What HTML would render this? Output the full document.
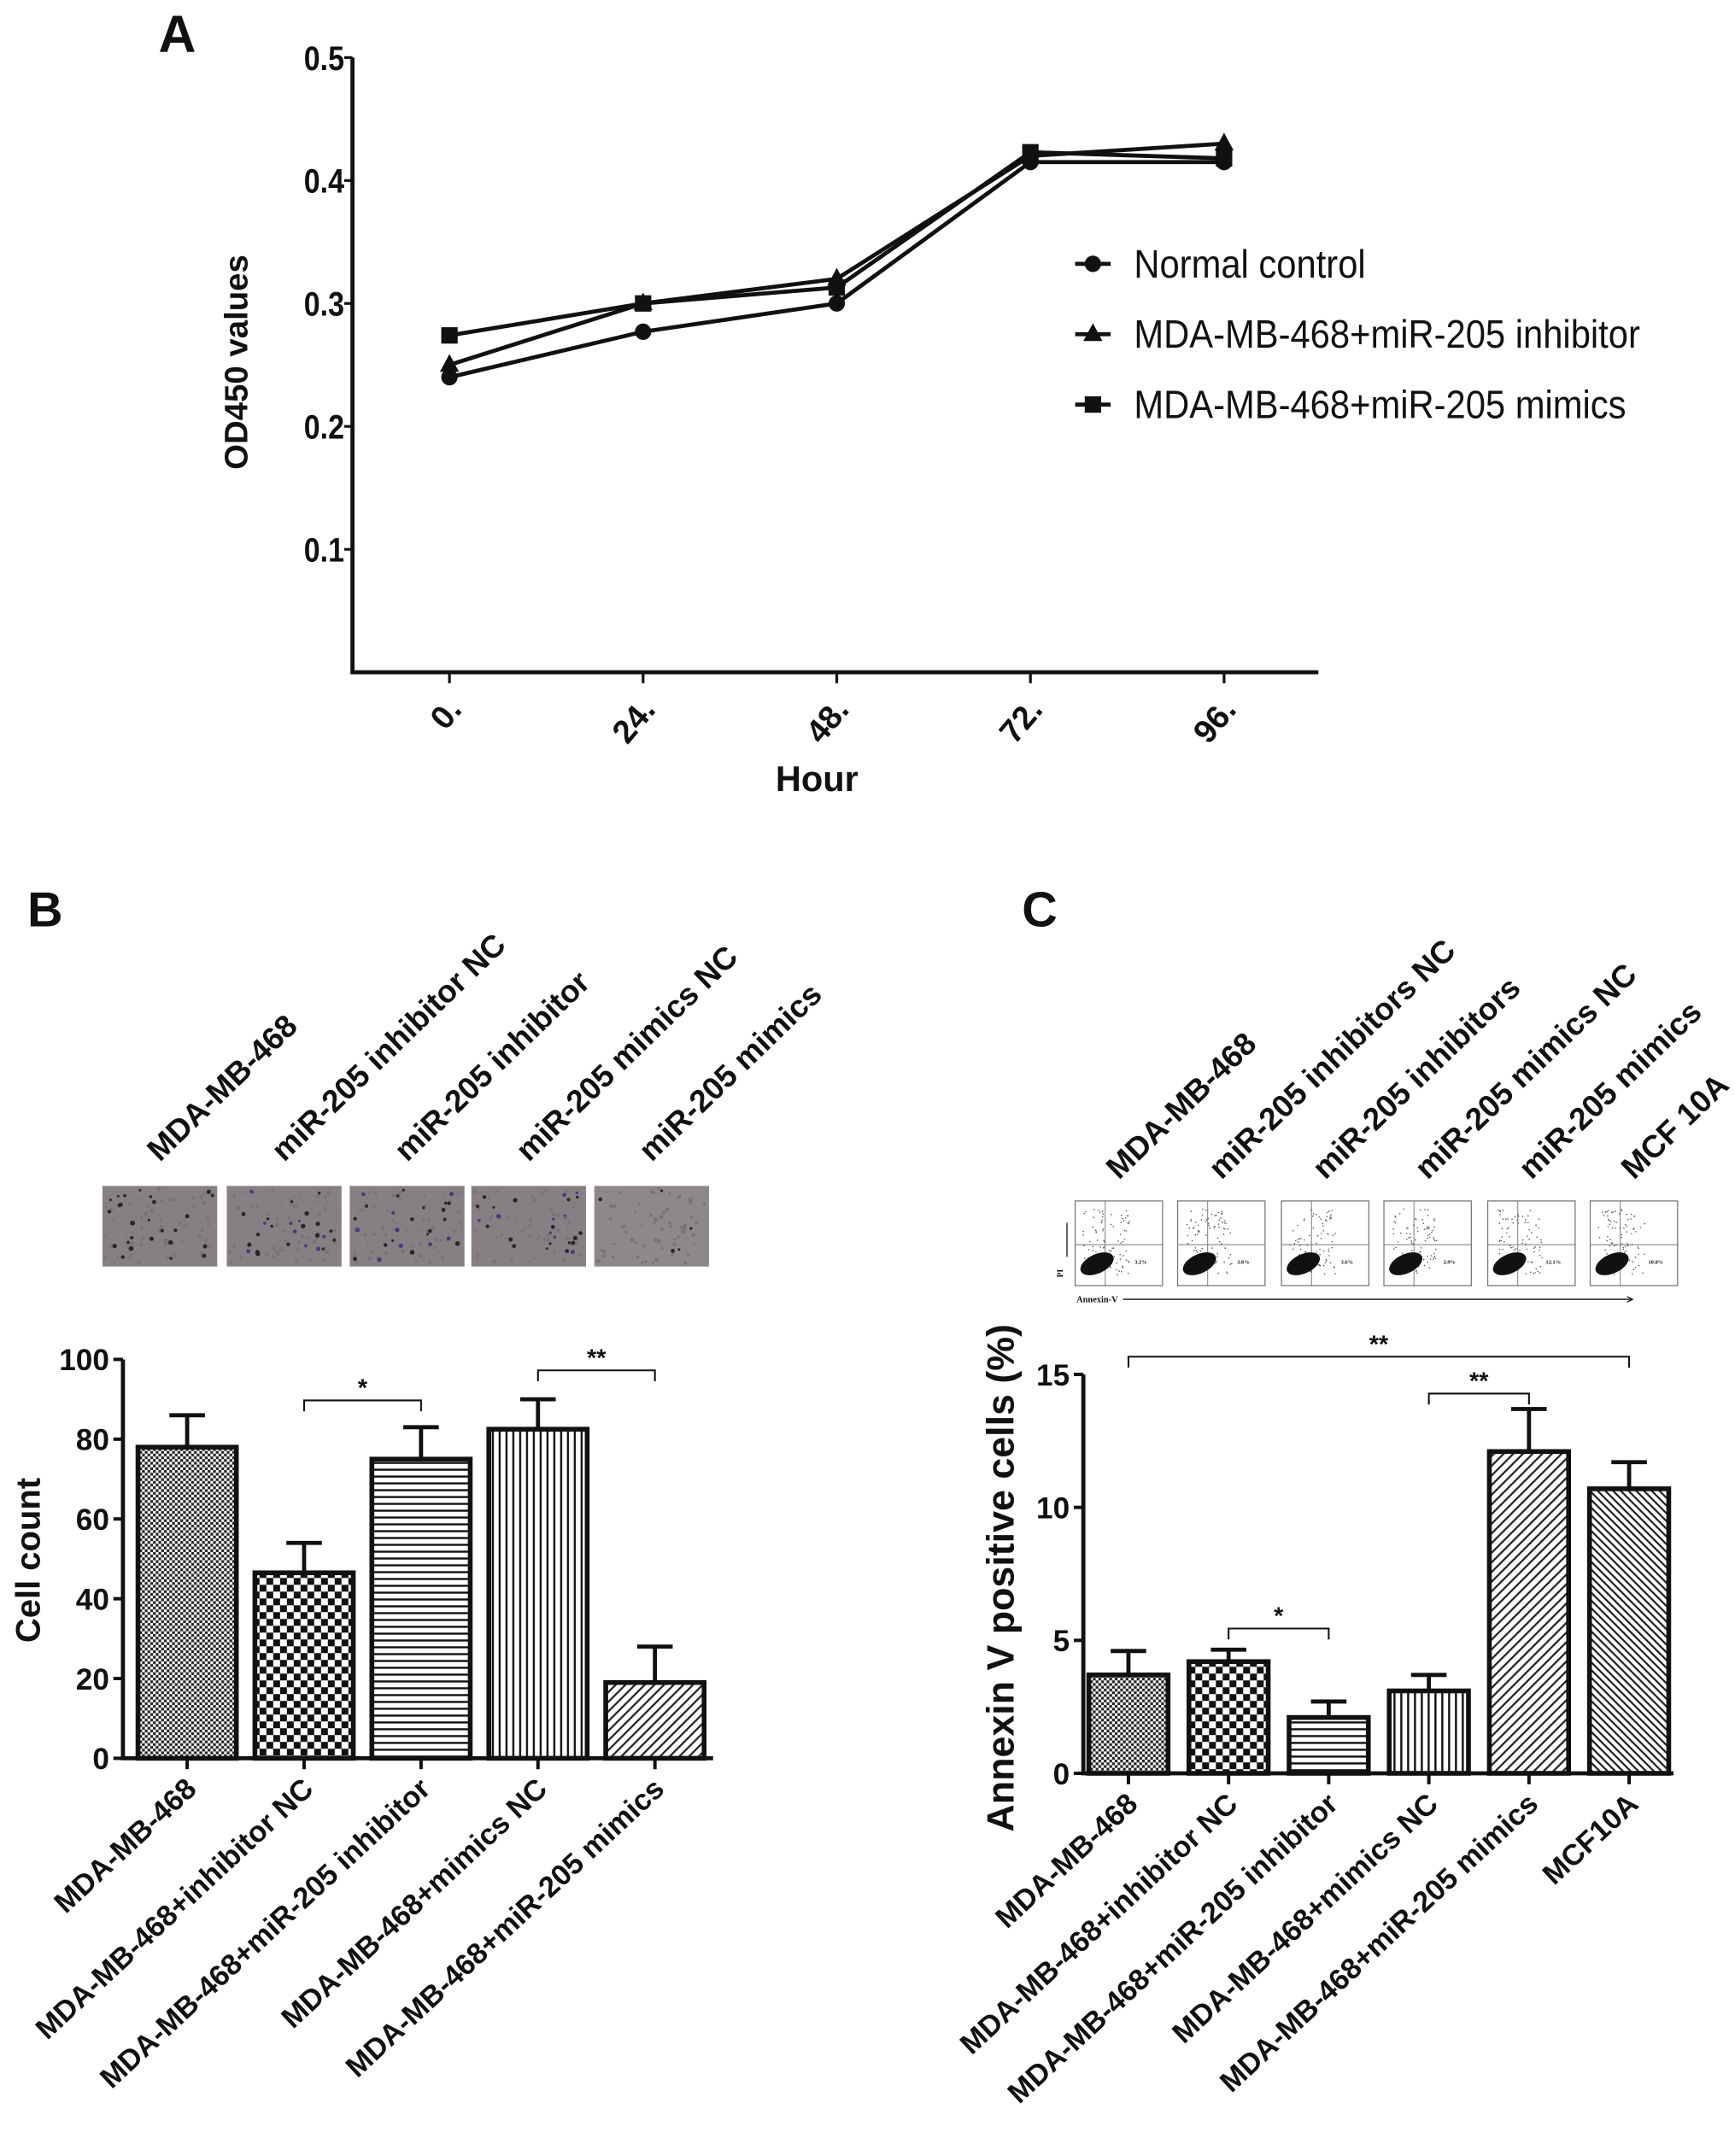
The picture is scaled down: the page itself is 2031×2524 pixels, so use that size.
<!DOCTYPE html>
<html><head><meta charset="utf-8"><style>
html,body{margin:0;padding:0;background:#fff;}
svg{display:block;}
text{font-family:"Liberation Sans",Arial,sans-serif;font-weight:bold;fill:#111;}
</style></head><body>
<svg id="fig" width="2031" height="2524" viewBox="0 0 1270 1578" xmlns="http://www.w3.org/2000/svg">
<defs>
<pattern id="pB1" width="4" height="4" patternUnits="userSpaceOnUse"><rect width="4" height="4" fill="#fff"/><rect width="2" height="2" fill="#222"/><rect x="2" y="2" width="2" height="2" fill="#222"/></pattern>
<pattern id="pB2" width="10" height="10" patternUnits="userSpaceOnUse"><rect width="10" height="10" fill="#fff"/><rect width="5" height="5" fill="#111"/><rect x="5" y="5" width="5" height="5" fill="#111"/></pattern>
<pattern id="pB3" width="6" height="5" patternUnits="userSpaceOnUse"><rect width="6" height="5" fill="#fff"/><rect width="6" height="1.5" fill="#111"/></pattern>
<pattern id="pB4" width="5" height="6" patternUnits="userSpaceOnUse"><rect width="5" height="6" fill="#fff"/><rect width="1.5" height="6" fill="#111"/></pattern>
<pattern id="pB5" width="5" height="5" patternUnits="userSpaceOnUse" patternTransform="rotate(-45)"><rect width="5" height="5" fill="#fff"/><rect width="5" height="1.4" fill="#222"/></pattern>
<pattern id="pB6" width="4" height="4" patternUnits="userSpaceOnUse" patternTransform="rotate(45)"><rect width="4" height="4" fill="#fff"/><rect width="4" height="1.4" fill="#222"/></pattern>
</defs>
<g id="A"></g>
<g id="B"></g>
<g id="C"></g>
</svg>
<script>
// ---------- Panel A data ----------
const hoursA = [0, 24, 48, 72, 96];
const hourLabelsA = ["0.", "24.", "48.", "72.", "96."];
const yTicksA = [0.1, 0.2, 0.3, 0.4, 0.5];
const normalA = [0.240, 0.277, 0.300, 0.415, 0.415];
const inhibitorA = [0.250, 0.300, 0.320, 0.420, 0.430];
const mimicsA = [0.274, 0.300, 0.313, 0.423, 0.418];
const seriesNamesA = ["Normal control", "MDA-MB-468+miR-205 inhibitor", "MDA-MB-468+miR-205 mimics"];
// ---------- Panel B data ----------
const catsB = ["MDA-MB-468", "MDA-MB-468+inhibitor NC", "MDA-MB-468+miR-205 inhibitor", "MDA-MB-468+mimics NC", "MDA-MB-468+miR-205 mimics"];
const valsB = [78, 46.5, 75, 82.5, 19];
const errB = [8, 7.5, 8, 7.5, 9];
const yTicksB = [0, 20, 40, 60, 80, 100];
const topLabelsB = ["MDA-MB-468", "miR-205 inhibitor NC", "miR-205 inhibitor", "miR-205 mimics NC", "miR-205 mimics"];
// ---------- Panel C data ----------
const catsC = ["MDA-MB-468", "MDA-MB-468+inhibitor NC", "MDA-MB-468+miR-205 inhibitor", "MDA-MB-468+mimics NC", "MDA-MB-468+miR-205 mimics", "MCF10A"];
const valsC = [3.7, 4.2, 2.1, 3.1, 12.1, 10.7];
const errC = [0.9, 0.45, 0.6, 0.6, 1.6, 1.0];
const yTicksC = [0, 5, 10, 15];
const topLabelsC = ["MDA-MB-468", "miR-205 inhibitors NC", "miR-205 inhibitors", "miR-205 mimics NC", "miR-205 mimics", "MCF 10A"];
const flowPctC = ["3.2%", "3.8%", "3.6%", "2.9%", "12.1%", "10.8%"];

const NS = "http://www.w3.org/2000/svg";
function mk(parent, tag, attrs, txt) {
  const e = document.createElementNS(NS, tag);
  for (const k in attrs) e.setAttribute(k, attrs[k]);
  if (txt !== undefined) e.textContent = txt;
  parent.appendChild(e);
  return e;
}
// deterministic pseudo-random for decorative textures only
let seed = 7;
function rnd() { seed = (seed * 16807) % 2147483647; return (seed - 1) / 2147483646; }

// ================= Panel A =================
(function(){
  const g = document.getElementById('A');
  const x0 = 258, x1 = 965, yBase = 492, yTop = 42;
  const xs = h => 329 + (h / 96) * (896 - 329);
  const ys = v => yBase - (v / 0.5) * (yBase - yTop);
  let t = mk(g, 'text', {x: 116, y: 38, 'font-size': 38}, 'A');
   
  let ax = mk(g, 'path', {d: `M${x0},${yTop} V${yBase} H${x1}`, stroke: '#111', 'stroke-width': 3, fill: 'none'});
   
  yTicksA.forEach(v => {
    const y = ys(v);
    mk(g, 'line', {x1: x0 - 6, x2: x0, y1: y, y2: y, stroke: '#111', 'stroke-width': 2});
    let l = mk(g, 'text', {x: x0 - 6, y: y + 9, 'font-size': 25, 'text-anchor': 'end', transform: `translate(${x0-6},0) scale(0.85,1) translate(${-(x0-6)},0)`}, v.toFixed(1));
     
  });
  hoursA.forEach((h, i) => {
    const x = xs(h);
    mk(g, 'line', {x1: x, x2: x, y1: yBase, y2: yBase + 8, stroke: '#111', 'stroke-width': 2});
    let l = mk(g, 'text', {x: x + 10, y: yBase + 28, 'font-size': 24, 'text-anchor': 'end', transform: `rotate(-50 ${x+10} ${yBase+28})`}, hourLabelsA[i]);
     
  });
  let xt = mk(g, 'text', {x: 598, y: 579, 'font-size': 26, 'text-anchor': 'middle'}, 'Hour');
   
  let yt = mk(g, 'text', {x: 0, y: 0, 'font-size': 24, 'text-anchor': 'middle', transform: 'translate(181,265) rotate(-90)'}, 'OD450 values');
   
  function marker(gg, type, x, y) {
    if (type === 0) mk(gg, 'circle', {cx: x, cy: y, r: 6, fill: '#111'});
    else if (type === 1) mk(gg, 'path', {d: `M${x},${y-8} L${x+7},${y+5} L${x-7},${y+5} Z`, fill: '#111'});
    else mk(gg, 'rect', {x: x - 6, y: y - 6, width: 12, height: 12, fill: '#111'});
  }
  [normalA, inhibitorA, mimicsA].forEach((s, si) => {
    const sg = mk(g, 'g', {});
    
    
    const d = s.map((v, i) => (i ? 'L' : 'M') + xs(hoursA[i]) + ',' + ys(v)).join(' ');
    mk(sg, 'path', {d: d, stroke: '#111', 'stroke-width': 3, fill: 'none'});
    s.forEach((v, i) => marker(sg, si, xs(hoursA[i]), ys(v)));
  });
  seriesNamesA.forEach((n, i) => {
    const y = 193 + i * 51.5;
    const lg = mk(g, 'g', {});
     
    mk(lg, 'line', {x1: 787, x2: 813, y1: y, y2: y, stroke: '#111', 'stroke-width': 3});
    marker(lg, i, 800, y);
    mk(lg, 'text', {x: 830, y: y + 10, 'font-size': 29, style: 'font-weight:normal', transform: `translate(830,0) scale(0.9,1) translate(-830,0)`}, n);
  });
})();

// ================= Bar chart helper =================
function barChart(g, o) {
  const ys = v => o.y0 - (v / o.ymax) * (o.y0 - o.yTop);
  mk(g, 'path', {d: `M${o.ax},${o.yTop} V${o.y0} H${o.axEnd}`, stroke: '#111', 'stroke-width': 3, fill: 'none'});
  o.ticks.forEach(v => {
    const y = ys(v);
    mk(g, 'line', {x1: o.ax - 7, x2: o.ax, y1: y, y2: y, stroke: '#111', 'stroke-width': 2.5});
    let l = mk(g, 'text', {x: o.ax - 10, y: y + 8, 'font-size': 22, 'text-anchor': 'end'}, String(v));
     
  });
  o.vals.forEach((v, i) => {
    const cx = o.c0 + i * o.step, x = cx - o.bw / 2, y = ys(v);
    const bg = mk(g, 'g', {});
     
    const ye = ys(v + o.err[i]);
    mk(bg, 'line', {x1: cx, x2: cx, y1: y, y2: ye, stroke: '#111', 'stroke-width': 3});
    mk(bg, 'line', {x1: cx - 13, x2: cx + 13, y1: ye, y2: ye, stroke: '#111', 'stroke-width': 3});
    mk(bg, 'rect', {x: x, y: y, width: o.bw, height: o.y0 - y, fill: `url(#${o.pats[i]})`, stroke: '#111', 'stroke-width': 3.5});
    mk(g, 'line', {x1: cx, x2: cx, y1: o.y0, y2: o.y0 + 8, stroke: '#111', 'stroke-width': 2.5});
    let l = mk(g, 'text', {x: cx + 8, y: o.y0 + 24, 'font-size': o.catFont, 'text-anchor': 'end', transform: `rotate(-43 ${cx+8} ${o.y0+24})`}, o.cats[i]);
     
  });
  o.sig.forEach(s => {
    const a = o.c0 + s[0] * o.step, b = o.c0 + s[1] * o.step;
    const sg = mk(g, 'g', {});
     
    mk(sg, 'path', {d: `M${a},${s[2]+8} V${s[2]} H${b} V${s[2]+8}`, stroke: '#111', 'stroke-width': 1.3, fill: 'none'});
    mk(sg, 'text', {x: (a + b) / 2, y: s[2] - 3, 'font-size': 18, 'text-anchor': 'middle'}, s[3]);
  });
}

// ================= Panel B =================
(function(){
  const g = document.getElementById('B');
  let t = mk(g, 'text', {x: 20, y: 678, 'font-size': 36}, 'B');
   
  const imgX = [75, 166, 256, 345, 435];
  topLabelsB.forEach((s, i) => {
    const x = imgX[i] + 42, y = 851;
    let l = mk(g, 'text', {x: x, y: y, 'font-size': 23, transform: `rotate(-44 ${x} ${y})`}, s);
     
  });
  imgX.forEach((x, i) => {
    const ig = mk(g, 'g', {});
     
    mk(ig, 'rect', {x: x, y: 868, width: 84, height: 59, fill: i === 4 ? '#8e888b' : '#868084'});
    for (let k = 0; k < 60; k++) mk(ig, 'circle', {cx: x + 2 + rnd() * 80, cy: 870 + rnd() * 55, r: 0.8 + rnd() * 0.8, fill: '#7a7478'});
    const n = i === 4 ? 5 : 26;
    for (let k = 0; k < n; k++) mk(ig, 'circle', {cx: x + 3 + rnd() * 78, cy: 871 + rnd() * 53, r: 0.9 + rnd() * 0.9, fill: (k % 3 === 0 && i > 0 && i < 4) ? '#4a3a78' : '#2b2528'});
  });
  barChart(g, {ax: 90, axEnd: 522, y0: 1287, yTop: 995, ymax: 100, ticks: yTicksB, vals: valsB, err: errB,
    c0: 137, step: 85.6, bw: 72, pats: ['pB1','pB2','pB3','pB4','pB5'], cats: catsB, catFont: 21.5,
    sig: [[1, 2, 1025, '*'], [3, 4, 1003, '**']]});
  let yt = mk(g, 'text', {x: 0, y: 0, 'font-size': 25, 'text-anchor': 'middle', transform: 'translate(29,1142) rotate(-90)'}, 'Cell count');
   
})();

// ================= Panel C =================
(function(){
  const g = document.getElementById('C');
  let t = mk(g, 'text', {x: 748, y: 678, 'font-size': 36}, 'C');
   
  const fx = [787, 862, 938, 1013, 1089, 1164];
  topLabelsC.forEach((s, i) => {
    const x = fx[i] + 32, y = 864;
    let l = mk(g, 'text', {x: x, y: y, 'font-size': 23, transform: `rotate(-44 ${x} ${y})`}, s);
     
  });
  fx.forEach((x, i) => {
    const fg = mk(g, 'g', {});
     
    mk(fg, 'rect', {x: x, y: 879, width: 64, height: 62, fill: '#fff', stroke: '#777', 'stroke-width': 0.8});
    mk(fg, 'line', {x1: x + 22, x2: x + 22, y1: 879, y2: 941, stroke: '#777', 'stroke-width': 0.6});
    mk(fg, 'line', {x1: x, x2: x + 64, y1: 911, y2: 911, stroke: '#777', 'stroke-width': 0.6});
    for (let k = 0; k < 90; k++) mk(fg, 'circle', {cx: x + 6 + rnd() * 34, cy: 885 + rnd() * 48, r: 0.5, fill: '#555'});
    mk(fg, 'ellipse', {cx: x + 16, cy: 925, rx: 13, ry: 7, fill: '#111', transform: `rotate(-25 ${x+16} 925)`});
    mk(fg, 'text', {x: x + 48, y: 925, 'font-size': 4, 'text-anchor': 'middle', style: 'font-family:"Liberation Serif",serif'}, flowPctC[i]);
  });
  mk(g, 'text', {x: 778, y: 935, 'font-size': 6, transform: 'rotate(-90 778 935)', style: 'font-family:"Liberation Serif",serif'}, 'PI');
  mk(g, 'line', {x1: 781, x2: 781, y1: 920, y2: 895, stroke: '#111', 'stroke-width': 0.8});
  mk(g, 'text', {x: 788, y: 953, 'font-size': 6.5, style: 'font-family:"Liberation Serif",serif'}, 'Annexin-V');
  mk(g, 'path', {d: 'M822,951 H1195 M1191,949 L1195,951 L1191,953', stroke: '#111', 'stroke-width': 0.8, fill: 'none'});
  barChart(g, {ax: 793, axEnd: 1225, y0: 1298, yTop: 1006, ymax: 15, ticks: yTicksC, vals: valsC, err: errC,
    c0: 826, step: 73.3, bw: 58, pats: ['pB1','pB2','pB3','pB4','pB5','pB6'], cats: catsC, catFont: 21.5,
    sig: [[0, 5, 993, '**'], [3, 4, 1020, '**'], [1, 2, 1192, '*']]});
  let yt = mk(g, 'text', {x: 0, y: 0, 'font-size': 28, 'text-anchor': 'middle', transform: 'translate(742,1155) rotate(-90)'}, 'Annexin V positive cells (%)');
   
})();
</script>
</body></html>
